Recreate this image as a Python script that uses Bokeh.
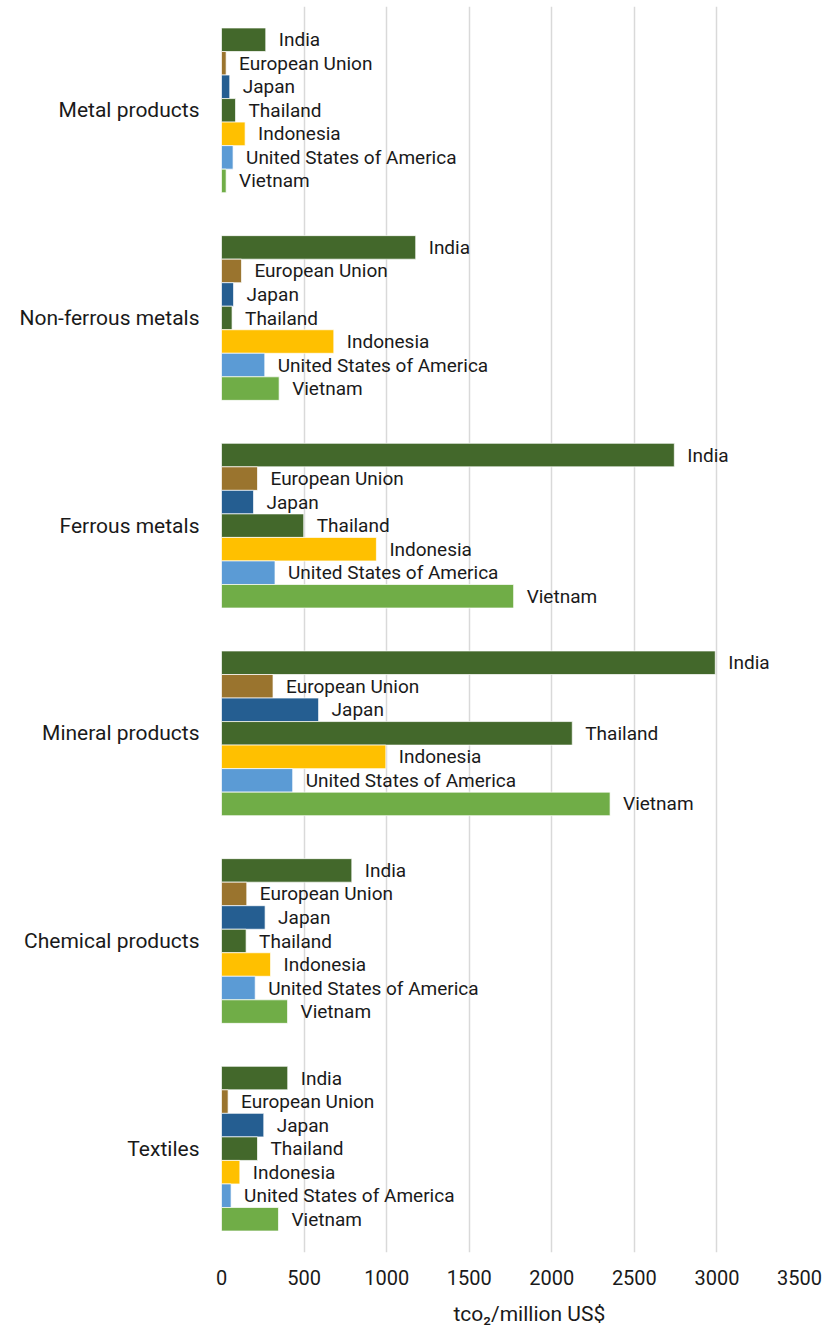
from bokeh.plotting import figure
from bokeh.models import ColumnDataSource, FactorRange, Range1d, FixedTicker, Title
from bokeh.transform import dodge
from bokeh.core.properties import value
from bokeh.embed import file_html
from bokeh.resources import INLINE

categories = ["Metal products", "Non-ferrous metals", "Ferrous metals",
              "Mineral products", "Chemical products", "Textiles"]
countries = ["India", "European Union", "Japan", "Thailand", "Indonesia",
             "United States of America", "Vietnam"]
india = [268, 1176, 2742, 2990, 789, 401]
eu = [28, 121, 218, 312, 153, 40]
japan = [50, 73, 194, 588, 264, 256]
thailand = [85, 64, 498, 2124, 149, 218]
indonesia = [143, 680, 938, 995, 297, 111]
usa = [70, 262, 324, 431, 204, 58]
vietnam = [28, 349, 1769, 2353, 400, 345]
x_ticks = [0, 500, 1000, 1500, 2000, 2500, 3000, 3500]
x_title = "tco\u2082/million US$"

series = [india, eu, japan, thailand, indonesia, usa, vietnam]
colors = ["#43682B", "#9A742E", "#255E91", "#43682B", "#FFC000", "#5B9BD5", "#70AD47"]

FONT = "Roboto"
H = 0.1133

p = figure(y_range=FactorRange(*reversed(categories)), x_range=Range1d(0, 3500),
           width=822, height=1337, output_backend="svg", toolbar_location=None,
           min_border_left=221, min_border_right=23, min_border_top=6,
           min_border_bottom=84)
p.y_range.range_padding = 0
p.outline_line_color = None
p.background_fill_color = "white"

for i, (name, vals, color) in enumerate(zip(countries, series, colors)):
    off = (3 - i) * H
    src = ColumnDataSource(dict(cat=categories, val=vals, name=[name] * len(vals)))
    p.hbar(y=dodge("cat", off, range=p.y_range), left=0, right="val", height=H,
           source=src, fill_color=color, line_color="white", line_width=1, line_alpha=0.7)
    p.text(x="val", y=dodge("cat", off, range=p.y_range), text="name", source=src,
           x_offset=13, text_baseline="middle", text_align="left",
           text_font=value(FONT), text_font_size="19px", text_color="#1a1a1a")

p.xaxis.ticker = FixedTicker(ticks=x_ticks)
p.xaxis.axis_line_color = None
p.xaxis.major_tick_line_color = None
p.xaxis.minor_tick_line_color = None
p.xaxis.major_label_text_font = FONT
p.xaxis.major_label_text_font_size = "20px"
p.xaxis.major_label_text_color = "#1a1a1a"
p.xaxis.major_label_standoff = 11

p.add_layout(Title(text=x_title, align="left", offset=232, standoff=24,
                   text_font=FONT, text_font_size="21px", text_font_style="normal",
                   text_color="#1a1a1a"), "below")

p.yaxis.axis_line_color = None
p.yaxis.major_tick_line_color = None
p.yaxis.minor_tick_line_color = None
p.yaxis.major_label_text_font = FONT
p.yaxis.major_label_text_font_size = "21px"
p.yaxis.major_label_text_color = "#1a1a1a"
p.yaxis.major_label_standoff = 16

p.ygrid.grid_line_color = None
p.xgrid.grid_line_color = "#D9D9D9"
p.xgrid.grid_line_width = 1.5

open("out.html", "w").write(file_html(p, INLINE))
